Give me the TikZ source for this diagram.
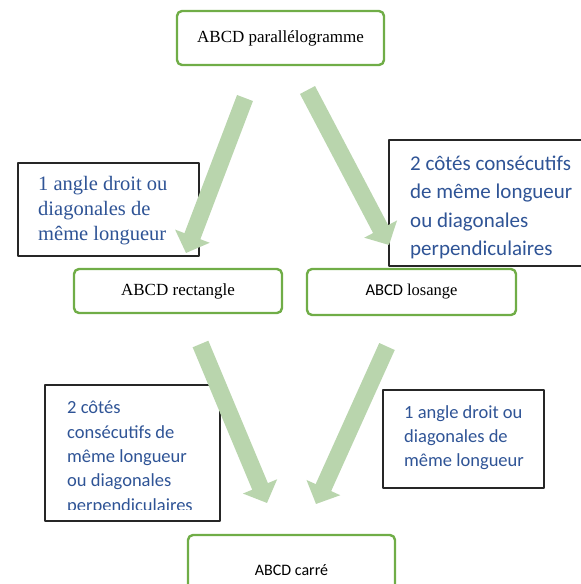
\documentclass[tikz,border=0pt]{standalone}
\usepackage{fontspec}
\setmainfont{Liberation Serif}
\newfontfamily\calib{Carlito}
\usetikzlibrary{arrows.meta}
\definecolor{greenline}{RGB}{112,173,71}
\definecolor{arrowgreen}{RGB}{185,213,173}
\definecolor{textblue}{RGB}{47,84,150}
\begin{document}
\begin{tikzpicture}[x=1pt,y=-1pt, line join=round,
  shape box/.style={draw=greenline, line width=2.4pt, rounded corners=5pt, inner sep=0pt},
  cond box/.style={draw=black!85, line width=1.3pt},
  cond text/.style={text=textblue, anchor=base west, align=left, inner sep=0pt},
  big arrow/.style={draw=arrowgreen, line width=17pt, -{Triangle[width=36pt,length=18pt]}}]
 \clip (0,0) rectangle (581,584);
 % quadrilaterals
 \node[shape box, minimum width=207pt, minimum height=54pt, font=\fontsize{17}{20}\selectfont] (para) at (280.5,38) {ABCD parallélogramme};
 \node[shape box, minimum width=208pt, minimum height=44pt, font=\fontsize{17}{20}\selectfont] (rect) at (178,291) {ABCD rectangle};
 \node[shape box, minimum width=209pt, minimum height=46pt, font=\fontsize{16.5}{20}\selectfont] (los) at (411.5,292) {{\calib ABCD} losange};
 \node[shape box, minimum width=207pt, minimum height=70pt, font=\calib\fontsize{16}{19}\selectfont] (car) at (291.5,570) {ABCD carré};
 % conditions (anchored at the baseline of the last line)
 \draw[cond box, fill=white] (18,163) rectangle (199,256);
 \node[cond text, font=\fontsize{20.5}{25}\selectfont] (c1) at (38,240) {1 angle droit ou\\diagonales de\\même longueur};
 \draw[cond box, fill=white] (389,140) rectangle (600,266);
 \begin{scope}
  \clip (389,140) rectangle (600,258.5);
  \node[cond text, font=\calib\fontsize{21}{28.5}\selectfont] (c2) at (410,255.5) {2 côtés consécutifs\\de même longueur\\ou diagonales\\perpendiculaires};
 \end{scope}
 \draw[cond box, fill=white] (45,385) rectangle (220,521);
 \begin{scope}
  \clip (45,385) rectangle (220,509);
  \node[cond text, font=\calib\fontsize{18.5}{24.3}\selectfont] (c3) at (67,511) {2 côtés\\consécutifs de\\même longueur\\ou diagonales\\perpendiculaires};
 \end{scope}
 \draw[cond box, fill=white] (383,390) rectangle (544,488);
 \node[cond text, font=\calib\fontsize{18.5}{24}\selectfont] (c4) at (404,466) {1 angle droit ou\\diagonales de\\même longueur};
 % arrows
 \coordinate (a1s) at (245,98);    \coordinate (a1e) at (186,253);
 \coordinate (a2s) at (307.5,90);  \coordinate (a2e) at (389,245);
 \coordinate (a3s) at (200.5,344); \coordinate (a3e) at (267,503);
 \coordinate (a4s) at (387,346.5); \coordinate (a4e) at (316,504);
 \draw[big arrow] (a1s)--(a1e);
 \draw[big arrow] (a2s)--(a2e);
 \draw[big arrow] (a3s)--(a3e);
 \draw[big arrow] (a4s)--(a4e);
\end{tikzpicture}
\end{document}
